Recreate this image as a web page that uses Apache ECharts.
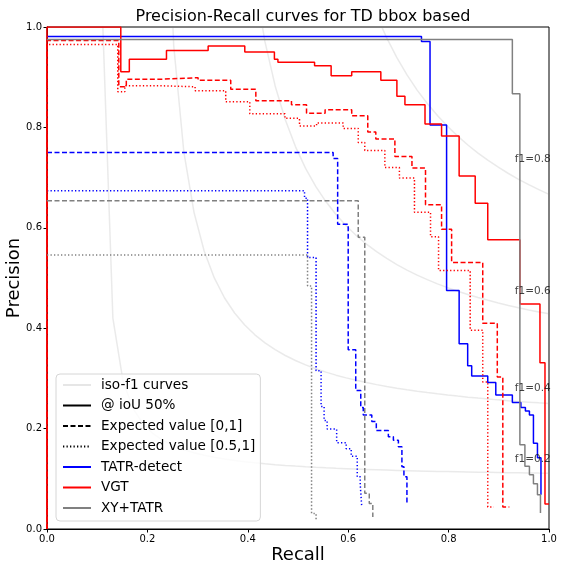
<!DOCTYPE html>
<html>
<head>
<meta charset="utf-8">
<script src="https://cdn.jsdelivr.net/npm/echarts@6/dist/echarts.min.js"></script>
<style>
  html, body { margin: 0; padding: 0; background: #fff; }
  #main { width: 561px; height: 564px; }
</style>
</head>
<body>
<div id="main"></div>
<script>
// TATR-detect
var tatrR    = [0, 0.746, 0.763, 0.796, 0.821, 0.838, 0.846, 0.878, 0.894, 0.927, 0.944, 0.953, 0.961, 0.969, 0.977, 0.984];
var tatrP    = [0.981, 0.971, 0.805, 0.475, 0.369, 0.325, 0.305, 0.292, 0.267, 0.252, 0.242, 0.235, 0.227, 0.171, 0.142, 0.068];
var tatrExpR = [0, 0.570, 0.579, 0.600, 0.615, 0.625, 0.630, 0.647, 0.656, 0.680, 0.690, 0.700, 0.707, 0.711, 0.717];
var tatrExpP = [0.750, 0.738, 0.607, 0.357, 0.276, 0.242, 0.227, 0.214, 0.196, 0.184, 0.177, 0.164, 0.124, 0.104, 0.051];
var tatrHalfR = [0, 0.513, 0.519, 0.536, 0.546, 0.552, 0.558, 0.577, 0.596, 0.606, 0.618, 0.624, 0.627];
var tatrHalfP = [0.674, 0.659, 0.541, 0.315, 0.244, 0.216, 0.199, 0.172, 0.160, 0.145, 0.104, 0.088, 0.044];

// VGT
var vgtR    = [0, 0, 0.147, 0.164, 0.238, 0.321, 0.394, 0.453, 0.460, 0.533, 0.566, 0.607, 0.665, 0.697, 0.713, 0.753, 0.786, 0.821, 0.853, 0.878, 0.942, 0.982, 0.992, 1.0];
var vgtP    = [0, 1.0, 0.911, 0.936, 0.953, 0.962, 0.950, 0.936, 0.930, 0.923, 0.903, 0.911, 0.894, 0.862, 0.845, 0.807, 0.783, 0.703, 0.649, 0.576, 0.448, 0.331, 0.050, 0.050];
var vgtExpR = [0, 0, 0.143, 0.158, 0.228, 0.301, 0.366, 0.416, 0.487, 0.517, 0.554, 0.607, 0.639, 0.655, 0.693, 0.727, 0.754, 0.786, 0.806, 0.868, 0.897, 0.908, 0.921];
var vgtExpP = [0, 0.973, 0.881, 0.896, 0.899, 0.894, 0.876, 0.853, 0.845, 0.828, 0.835, 0.823, 0.791, 0.777, 0.742, 0.719, 0.646, 0.597, 0.531, 0.410, 0.303, 0.044, 0.044];
var vgtHalfR = [0, 0, 0.141, 0.155, 0.225, 0.295, 0.356, 0.404, 0.474, 0.503, 0.537, 0.590, 0.620, 0.633, 0.673, 0.702, 0.732, 0.764, 0.780, 0.843, 0.868, 0.878, 0.890];
var vgtHalfP = [0, 0.965, 0.871, 0.883, 0.881, 0.873, 0.851, 0.827, 0.818, 0.803, 0.809, 0.798, 0.770, 0.754, 0.720, 0.699, 0.631, 0.582, 0.515, 0.396, 0.293, 0.044, 0.044];

// XY+TATR
var xyR    = [0, 0.927, 0.942, 0.952, 0.961, 0.969, 0.977, 0.983];
var xyP    = [0.975, 0.867, 0.168, 0.125, 0.108, 0.090, 0.068, 0.032];
var xyExpR = [0, 0.620, 0.633, 0.642, 0.649];
var xyExpP = [0.654, 0.581, 0.071, 0.051, 0.024];
var xyHalfR = [0, 0.519, 0.527, 0.536];
var xyHalfP = [0.546, 0.484, 0.031, 0.019];

// iso-f1 guide curves and their labels
var isoF1 = [0.2, 0.4, 0.6, 0.8];
var isoLabelR = 0.932;
var isoLabelP = [0.139, 0.281, 0.474, 0.736];

var legendNames = ['iso-f1 curves', '@ ioU 50%', 'Expected value [0,1]', 'Expected value [0.5,1]', 'TATR-detect', 'VGT', 'XY+TATR'];

var FONT = 'DejaVu Sans';
var dashed = [5, 2.5];
var dotted = [1.3, 2.2];

function pairs(xs, ys) {
  var out = [];
  for (var i = 0; i < xs.length; i++) out.push([xs[i], ys[i]]);
  return out;
}

function curve(xs, ys, color, type) {
  return {
    type: 'line', step: 'end', symbol: 'none', silent: true,
    data: pairs(xs, ys),
    lineStyle: { color: color, width: 1.5, type: type },
    z: 3
  };
}

// iso-f1 lines: p = f*r/(2r - f), sampled on the same grid as the usual sklearn recipe
function isoCurve(f) {
  var pts = [];
  for (var i = 0; i < 50; i++) {
    var r = 0.01 + i * (0.99 / 49);
    var p = f * r / (2 * r - f);
    if (p >= 0) pts.push([r, p]);
  }
  return {
    type: 'line', symbol: 'none', silent: true, data: pts,
    lineStyle: { color: 'rgba(128,128,128,0.17)', width: 1.5 }, z: 1
  };
}

var series = [];
isoF1.forEach(function (f) { series.push(isoCurve(f)); });

series.push({
  type: 'scatter', silent: true, symbolSize: 0, z: 4,
  data: isoF1.map(function (f, i) { return [isoLabelR, isoLabelP[i], f]; }),
  label: {
    show: true, position: 'right', distance: 0,
    formatter: function (d) { return 'f1=' + d.value[2]; },
    fontFamily: FONT, fontSize: 10.5, color: '#111'
  }
});

series.push(curve(tatrR, tatrP, '#0000ff', 'solid'));
series.push(curve(tatrExpR, tatrExpP, '#0000ff', dashed));
series.push(curve(tatrHalfR, tatrHalfP, '#0000ff', dotted));
series.push(curve(vgtR, vgtP, '#ff0000', 'solid'));
series.push(curve(vgtExpR, vgtExpP, '#ff0000', dashed));
series.push(curve(vgtHalfR, vgtHalfP, '#ff0000', dotted));
series.push(curve(xyR, xyP, '#808080', 'solid'));
series.push(curve(xyExpR, xyExpP, '#808080', dashed));
series.push(curve(xyHalfR, xyHalfP, '#808080', dotted));

// legend-only series
var legendStyles = [
  { color: 'rgba(128,128,128,0.2)', type: 'solid' },
  { color: '#000', type: 'solid' },
  { color: '#000', type: dashed },
  { color: '#000', type: dotted },
  { color: '#0000ff', type: 'solid' },
  { color: '#ff0000', type: 'solid' },
  { color: '#808080', type: 'solid' }
];
legendNames.forEach(function (n, i) {
  series.push({
    name: n, type: 'line', symbol: 'none', data: [],
    itemStyle: { color: legendStyles[i].color },
    lineStyle: { color: legendStyles[i].color, width: 1.5, type: legendStyles[i].type }
  });
});

var tickFmt = function (v) { return v.toFixed(1); };

var chart = echarts.init(document.getElementById('main'), null, { renderer: 'canvas' });
chart.setOption({
  animation: false,
  backgroundColor: '#fff',
  textStyle: { fontFamily: FONT },
  title: {
    text: 'Precision-Recall curves for TD bbox based',
    left: 298, textAlign: 'center', top: 4,
    textStyle: { fontFamily: FONT, fontSize: 16, fontWeight: 'normal', color: '#000' }
  },
  grid: {
    left: 47, top: 27, width: 502, height: 502,
    containLabel: false, outerBoundsMode: 'none',
    show: true, borderColor: '#000', borderWidth: 1, backgroundColor: 'transparent'
  },
  xAxis: {
    type: 'value', min: 0, max: 1, interval: 0.2,
    name: 'Recall', nameLocation: 'middle', nameGap: 17, nameMoveOverlap: false,
    nameTextStyle: { fontFamily: FONT, fontSize: 18, color: '#000' },
    axisLine: { show: true, lineStyle: { color: '#000', width: 1 } },
    axisTick: { show: true, length: 3.5, lineStyle: { color: '#000' } },
    axisLabel: { formatter: tickFmt, fontFamily: FONT, fontSize: 10, color: '#000', margin: 5 },
    splitLine: { show: false }
  },
  yAxis: {
    type: 'value', min: 0, max: 1, interval: 0.2,
    name: 'Precision', nameLocation: 'middle', nameGap: 24, nameMoveOverlap: false, nameRotate: 90,
    nameTextStyle: { fontFamily: FONT, fontSize: 18, color: '#000' },
    axisLine: { show: true, lineStyle: { color: '#000', width: 1 } },
    axisTick: { show: true, length: 3.5, lineStyle: { color: '#000' } },
    axisLabel: { formatter: tickFmt, fontFamily: FONT, fontSize: 10, color: '#000', margin: 5 },
    splitLine: { show: false }
  },
  legend: {
    data: legendNames, orient: 'vertical', left: 56, top: 374,
    itemWidth: 28, itemHeight: 14, itemGap: 6.5,
    padding: [4, 5, 6, 6],
    backgroundColor: 'rgba(255,255,255,0.8)', borderColor: '#d6d6d6', borderWidth: 1, borderRadius: 4,
    selectedMode: false,
    itemStyle: { color: 'rgba(0,0,0,0)', borderColor: 'rgba(0,0,0,0)', borderWidth: 0 },
    textStyle: { fontFamily: FONT, fontSize: 13.6, color: '#000', padding: [0, 0, 0, 5] }
  },
  series: series
});
</script>
</body>
</html>
